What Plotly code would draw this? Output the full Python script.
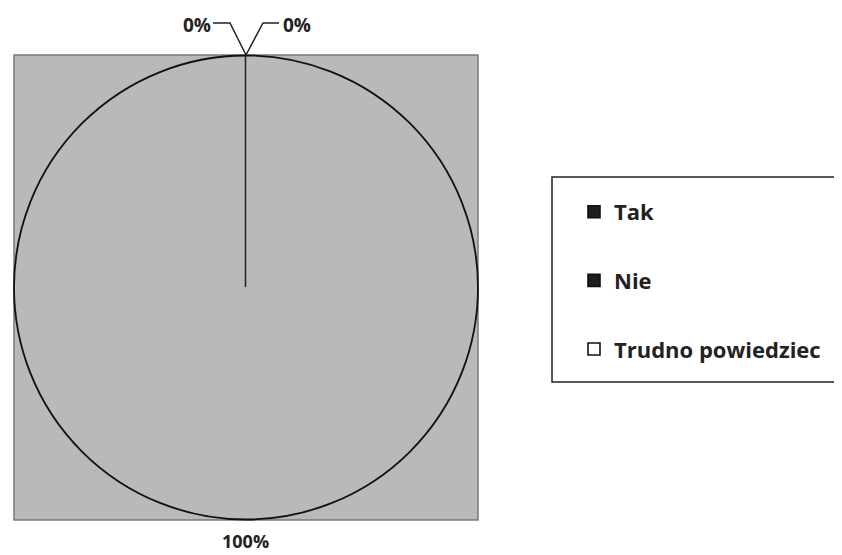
import plotly.graph_objects as go

categories = ["Tak", "Nie", "Trudno powiedziec"]
values = [0, 0, 100]
legend_colors = ["#1e1e1e", "#1e1e1e", "#ffffff"]
slice_colors = ["#1e1e1e", "#1e1e1e", "#b9b9b9"]

# page has an 8px body margin; work in screen pixels
OFF = 8
W, H = 842 - OFF, 555 - OFF
def px(x): return (x - OFF) / W
def py(y): return 1 - (y - OFF) / H

total = sum(values)
labels_txt = [f"{v / total:.0%}" for v in values]

fig = go.Figure()
fig.add_trace(go.Pie(
    labels=categories, values=values, sort=False, direction="clockwise", rotation=0,
    marker=dict(colors=slice_colors, line=dict(color="#111111", width=1.8)),
    textinfo="none", hoverinfo="label+percent", showlegend=False,
    domain=dict(x=[px(14), px(478)], y=[py(520), py(55)]),
))
for i, (c, col) in enumerate(zip(categories, legend_colors)):
    fig.add_trace(go.Scatter(
        x=[None], y=[None], mode="markers", name=c, legendgroup=c,
        marker=dict(symbol="square", size=12, color=col, line=dict(color="#111111", width=1.6)),
    ))

font = "'Open Sans', Lato, Arial, sans-serif"
fig.update_layout(
    width=W, height=H, margin=dict(l=0, r=0, t=0, b=0),
    paper_bgcolor="white", plot_bgcolor="white",
    xaxis=dict(visible=False), yaxis=dict(visible=False),
    shapes=[
        dict(type="rect", xref="paper", yref="paper", x0=px(14), x1=px(478), y0=py(520), y1=py(55),
             fillcolor="#b9b9b9", line=dict(color="#7a7a7a", width=1.5), layer="below"),
        dict(type="rect", xref="paper", yref="paper", x0=px(552), x1=px(870), y0=py(382), y1=py(177),
             fillcolor="white", line=dict(color="#222222", width=1.5), layer="below"),
        dict(type="path", xref="paper", yref="paper",
             path=f"M {px(213)} {py(23)} L {px(230)} {py(23)} L {px(246)} {py(55)}",
             line=dict(color="#222222", width=1.5)),
        dict(type="path", xref="paper", yref="paper",
             path=f"M {px(246)} {py(55)} L {px(263)} {py(23)} L {px(279)} {py(23)}",
             line=dict(color="#222222", width=1.5)),
        dict(type="line", xref="paper", yref="paper", x0=px(245.5), x1=px(245.5), y0=py(55), y1=py(287),
             line=dict(color="#222222", width=1.5)),
    ],
    annotations=[
        dict(text=f"<b>{labels_txt[0]}</b>", x=px(197), y=py(25), xref="paper", yref="paper",
             xanchor="center", yanchor="middle",
             showarrow=False, font=dict(family=font, size=19, color="#222222")),
        dict(text=f"<b>{labels_txt[1]}</b>", x=px(297), y=py(25), xref="paper", yref="paper",
             xanchor="center", yanchor="middle",
             showarrow=False, font=dict(family=font, size=19, color="#222222")),
        dict(text=f"<b>{labels_txt[2]}</b>", x=px(245), y=py(541), xref="paper", yref="paper",
             xanchor="center", yanchor="middle",
             showarrow=False, font=dict(family=font, size=18, color="#222222")),
    ],
    legend=dict(
        x=px(574), y=py(191), xanchor="left", yanchor="top",
        bgcolor="rgba(0,0,0,0)", borderwidth=0,
        font=dict(family=font, size=22, color="#222222", weight="bold"),
        tracegroupgap=37, itemwidth=30,
    ),
)
fig.write_html("out.html")
